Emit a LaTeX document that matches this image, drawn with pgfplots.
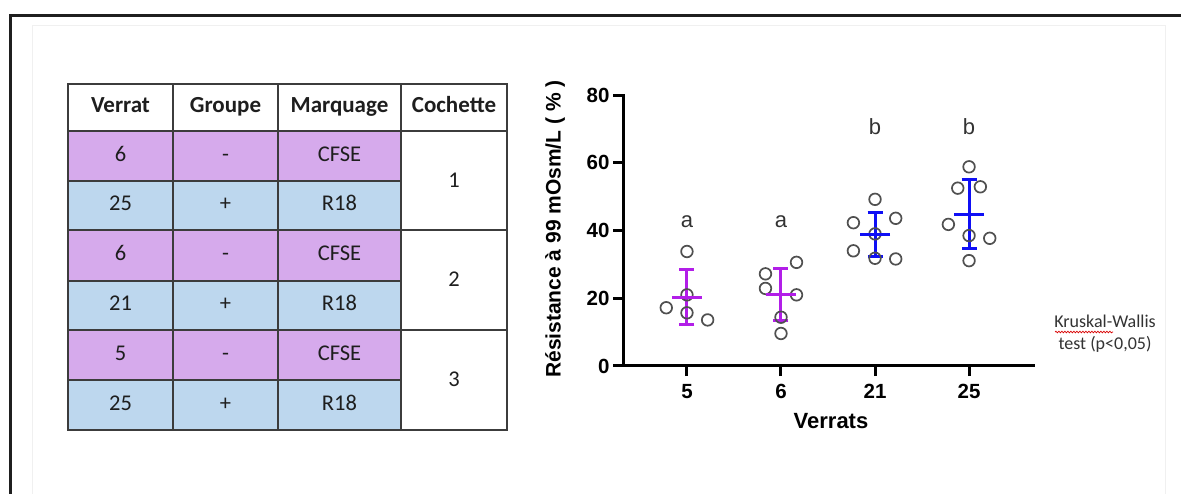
\documentclass[border=0pt]{standalone}
\usepackage{fontspec}
\setmainfont{Liberation Sans}
\newfontfamily\calibri{Carlito}
\usepackage{pgfplots}
\pgfplotsset{compat=1.18}
\usetikzlibrary{decorations.pathmorphing}
\definecolor{tpurple}{RGB}{214,170,236}
\definecolor{tblue}{RGB}{189,215,238}
\definecolor{ppurple}{RGB}{178,30,232}
\definecolor{pblue}{RGB}{15,15,245}
\definecolor{circ}{RGB}{80,80,80}
\definecolor{tline}{RGB}{60,60,60}
\definecolor{ttext}{RGB}{30,30,30}

\pgfplotstableread{
x y
0 33.8
-0.22 17.2
0 21.0
0 15.7
0.22 13.6
0.835 27.2
0.835 22.9
1.165 30.6
1.165 21.0
1 14.4
1 9.6
2 49.2
1.77 42.3
2.22 43.6
2 39.0
1.77 34.0
2 31.8
2.22 31.6
3 58.8
2.88 52.5
3.12 52.9
2.78 41.8
3 38.5
3.22 37.7
3 31.1
}\points

\pgfplotstableread{
x y e
0 20.3 8.1
1 21.1 7.7
}\purplestats

\pgfplotstableread{
x y e
2 38.8 6.6
3 44.8 10.2
}\bluestats

\begin{document}
\begin{tikzpicture}
\begin{scope}[x=1pt,y=-1pt]
\useasboundingbox (0,0) rectangle (1181,494);
\fill[white] (0,0) rectangle (1181,494);
% frames
\draw[black!6, line width=1pt] (32,494) -- (32,26) -- (1165,26) -- (1165,494);
\draw[black!88, line width=2.5pt] (10.3,494) -- (10.3,15.3) -- (1181,15.3);

% table fills
\fill[tpurple] (68,131) rectangle (401,181);
\fill[tblue] (68,181) rectangle (401,230);
\fill[tpurple] (68,230) rectangle (401,281);
\fill[tblue] (68,281) rectangle (401,330);
\fill[tpurple] (68,330) rectangle (401,380);
\fill[tblue] (68,380) rectangle (401,430);
% table lines
\draw[tline, line width=1.3pt] (173,84) -- (173,430) (278,84)--(278,430) (401,84)--(401,430);
\draw[tline, line width=1.2pt] (68,181)--(401,181) (68,281)--(401,281) (68,380)--(401,380);
\draw[tline, line width=2.2pt] (68,131)--(507,131) (68,230)--(507,230) (68,330)--(507,330);
\draw[tline, line width=2pt] (68,84) rectangle (507,430);

% table header
\begin{scope}[every node/.style={font=\calibri\bfseries\fontsize{23}{27}\selectfont, text=ttext, text height=15pt, text depth=4pt, inner sep=0pt}]
\node at (120.5,107.5) {Verrat};
\node at (225.5,107.5) {Groupe};
\node at (339.5,107.5) {Marquage};
\node at (454,107.5) {Cochette};
\end{scope}
\begin{scope}[every node/.style={font=\calibri\fontsize{22.5}{27}\selectfont, text=ttext, text height=15pt, text depth=4pt, inner sep=0pt}]
\node at (120.5,156) {6};   \node at (225.5,156) {-};   \node at (339.5,156) {CFSE};
\node at (120.5,205.5) {25};\node at (225.5,205.5) {+}; \node at (339.5,205.5) {R18};
\node at (120.5,255.5) {6}; \node at (225.5,255.5) {-}; \node at (339.5,255.5) {CFSE};
\node at (120.5,305.5) {21};\node at (225.5,305.5) {+}; \node at (339.5,305.5) {R18};
\node at (120.5,355) {5};   \node at (225.5,355) {-};   \node at (339.5,355) {CFSE};
\node at (120.5,405) {25};  \node at (225.5,405) {+};   \node at (339.5,405) {R18};
\node at (454,182) {1};
\node at (454,281) {2};
\node at (454,381) {3};
\end{scope}

% Kruskal-Wallis note
\node[font=\calibri\fontsize{18}{22}\selectfont, text=black!80, align=center] at (1105,334) {Kruskal-Wallis\\test (p<0,05)};
\draw[red!85!black, line width=0.7pt, decorate, decoration={snake, amplitude=0.8pt, segment length=3pt}] (1055,332) -- (1113,332);

% axis labels
\node[rotate=90, font=\bfseries\fontsize{21}{25}\selectfont] at (555,229) {Résistance à 99 mOsm/L ( \% )};
\node[font=\bfseries\fontsize{22}{26}\selectfont] at (831,421) {Verrats};
\end{scope}

\begin{axis}[
  at={(623pt,-366pt)}, anchor=south west,
  scale only axis, width=410pt, height=271pt,
  xmin=-0.68, xmax=3.68, ymin=0, ymax=80,
  axis x line*=bottom, axis y line*=left,
  xtick pos=bottom, ytick pos=left,
  axis line style={line width=3pt, line cap=rect},
  tick align=outside, major tick length=10pt,
  tick style={line width=3pt, black},
  xtick={0,1,2,3}, xticklabels={5,6,21,25},
  ytick={0,20,40,60,80},
  tick label style={font=\bfseries\fontsize{20.5}{24}\selectfont},
  xticklabel style={yshift=-5pt},
  /pgf/number format/assume math mode=true,
  clip=false,
]
\addplot[only marks, mark=o, mark size=5.8pt, mark options={draw=circ, line width=1.7pt}] table[x=x,y=y] {\points};

\addplot[only marks, ppurple, mark=-, mark size=15pt, mark options={line width=3pt},
  error bars/.cd, y dir=both, y explicit, error mark=|,
  error mark options={mark size=7.5pt, line width=3pt, ppurple},
  error bar style={line width=3pt, ppurple}]
  table[x=x, y=y, y error=e] {\purplestats};

\addplot[only marks, pblue, mark=-, mark size=15pt, mark options={line width=3pt},
  error bars/.cd, y dir=both, y explicit, error mark=|,
  error mark options={mark size=7.5pt, line width=3pt, pblue},
  error bar style={line width=3pt, pblue}]
  table[x=x, y=y, y error=e] {\bluestats};

\node[font=\fontsize{22}{26}\selectfont, text=black!80] at (axis cs:0,42.6) {a};
\node[font=\fontsize{22}{26}\selectfont, text=black!80] at (axis cs:1,42.6) {a};
\node[font=\fontsize{22}{26}\selectfont, text=black!80] at (axis cs:2,70.6) {b};
\node[font=\fontsize{22}{26}\selectfont, text=black!80] at (axis cs:3,70.6) {b};
\end{axis}
\end{tikzpicture}
\end{document}
